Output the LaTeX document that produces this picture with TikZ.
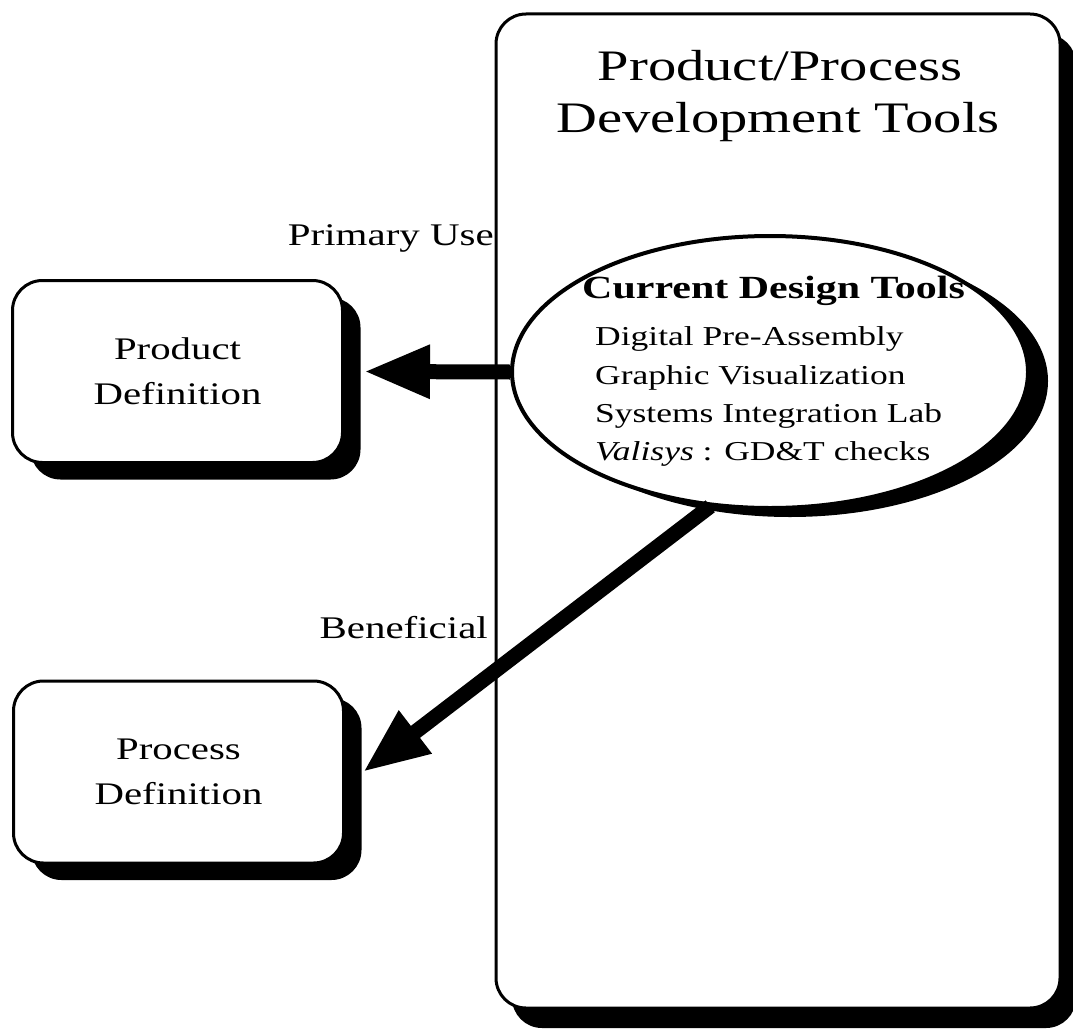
\documentclass[tikz,border=0pt]{standalone}
\usepackage{fontspec}
\setmainfont{Liberation Serif}[FakeStretch=1.3]
\usetikzlibrary{arrows.meta,shapes.geometric,shadows}

\tikzset{
  solidshadow/.style 2 args={drop shadow={shadow xshift=#1, shadow yshift=#2, fill=black, opacity=1}},
  panel/.style={draw, line width=3pt, fill=white, rounded corners=30pt, inner sep=0pt},
  bigpanel/.style={panel, minimum width=564pt, minimum height=994pt, solidshadow={16pt}{-20pt}},
  defbox/.style={panel, minimum width=330pt, minimum height=182pt, align=center,
    font=\fontsize{31.4}{45}\selectfont, solidshadow={18pt}{-17pt}},
  toolsoval/.style={ellipse, draw, line width=4pt, fill=white, inner sep=0pt,
    minimum width=516pt, minimum height=272pt, solidshadow={20pt}{-9pt}},
  titletext/.style={anchor=base, inner sep=0pt, font=\fontsize{43.5}{48}\selectfont},
  headtext/.style={anchor=base west, inner sep=0pt, font=\fontsize{32.3}{38}\selectfont\bfseries},
  itemtext/.style={anchor=base west, inner sep=0pt, font=\fontsize{27.3}{38}\selectfont},
  labeltext/.style={anchor=base east, inner sep=0pt, font=\fontsize{31.5}{36}\selectfont},
  fatarrow/.style={line width=15pt, -{Triangle[length=66pt, width=50pt]}},
}

\begin{document}
\begin{tikzpicture}[x=1pt, y=-1pt]
  \useasboundingbox (0,0) rectangle (1073,1030);

  % development tools panel
  \node[bigpanel] (dev) at (778,511) {};
  \node[titletext] (title1) at (780,81) {Product/Process};
  \node[titletext] (title2) at (778,132) {Development Tools};

  % current design tools
  \node[toolsoval] (ell) at (770,372) {};
  \node[headtext] (head) at (582,298) {Current Design Tools};
  \node[itemtext] (item1) at (595,345) {Digital Pre-Assembly};
  \node[itemtext] (item2) at (595,384) {Graphic Visualization};
  \node[itemtext] (item3) at (595,422) {Systems Integration Lab};
  \node[itemtext] (item4) at (595,460) {\textit{Valisys} : GD\&T checks};

  % definition boxes
  \node[defbox] (prod) at (177.5,371.5) {Product\\Definition};
  \node[defbox] (proc) at (178.5,772) {Process\\Definition};

  % connectors
  \draw[fatarrow] (ell.west) -- ([xshift=20pt]prod.east);
  \draw[fatarrow] (ell.246) -- ([xshift=18pt]proc.east);

  % connector labels
  \node[labeltext] (use) at (494,245) {Primary Use};
  \node[labeltext] (ben) at (488,638) {Beneficial};
\end{tikzpicture}
\end{document}
